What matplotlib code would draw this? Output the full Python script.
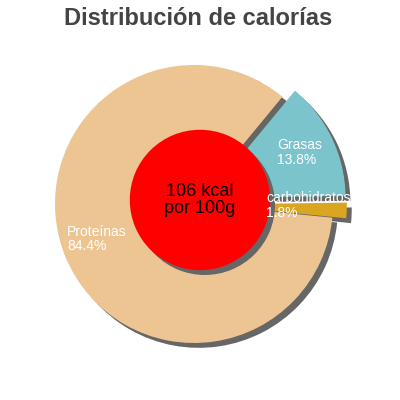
import matplotlib
matplotlib.use("Agg")
import matplotlib.pyplot as plt

# ── data ────────────────────────────────────────────────────────────────
labels = ["Proteínas", "carbohidratos", "Grasas"]
values = [84.4, 1.8, 13.8]
explode = [0.0, 0.1, 0.1]
colors = ["#edc592", "#daa520", "#7bc4cc"]
kcal_text = "106 kcal\npor 100g"
title = "Distribución de calorías"

# label anchor points (data units, pie radius = 1)
label_pos = {"Proteínas": (-0.914, -0.252),
             "carbohidratos": (0.518, -0.011),
             "Grasas": (0.597, 0.370)}

plt.rcParams["font.family"] = ["Liberation Sans", "DejaVu Sans"]

fig = plt.figure(figsize=(4, 4), dpi=100)
ax = fig.add_axes([0, 0, 1, 1])

shadow = {"ox": 0.025, "oy": -0.025, "facecolor": "#666666",
          "edgecolor": "#666666", "alpha": 1}

ax.pie(values, explode=explode, colors=colors, startangle=50.5,
       counterclock=True, shadow=shadow, radius=1.0,
       wedgeprops={"linewidth": 0})

# red centre disc
ax.pie([1], colors=["#ff0000"], radius=0.505, center=(0.043, 0.029),
       shadow=shadow, wedgeprops={"linewidth": 0, "zorder": 3})

ax.text(0.043, 0.029, kcal_text, ha="center", va="center",
        fontsize=13, color="black", zorder=6, linespacing=1.0)

for name, val in zip(labels, values):
    x, y = label_pos[name]
    ax.text(x, y, f"{name}\n{val:.1f}%", ha="left", va="center",
            fontsize=10, color="white", zorder=6, linespacing=1.05)

ax.set_aspect("equal")
ax.set_xlim(-194 / 139, 206 / 139)
ax.set_ylim(-196 / 139, 204 / 139)
ax.axis("off")

fig.text(0.495, 1 - 25 / 400, title, ha="center", va="baseline",
         fontsize=17, fontweight="bold", color="#444444")

fig.savefig("out.png", dpi=100, facecolor="white")
